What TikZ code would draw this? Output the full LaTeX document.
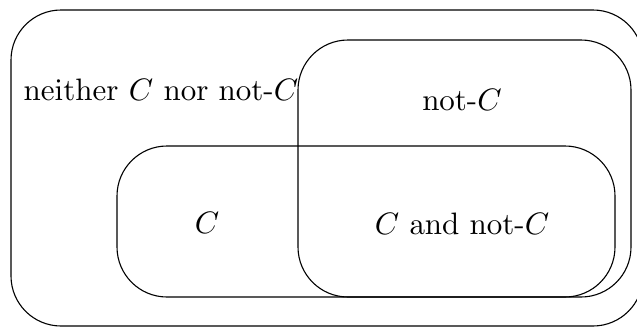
\documentclass[tikz,border=0pt]{standalone}
\font\bigrm=cmr10 at 31pt
\font\bigmi=cmmi10 at 31pt
\newcommand{\vC}{{\bigmi C\/}}
\begin{document}
\begin{tikzpicture}[x=1pt,y=-1pt,
  region/.style={draw=black, line width=1.1pt, rounded corners=50pt, inner sep=0pt, outer sep=0pt, rectangle},
  lbl/.style={anchor=base, inner sep=0pt, font=\bigrm}]
\useasboundingbox (0,0) rectangle (637,327);
\clip (0,0) rectangle (637,327);
\node[region, minimum width=632pt, minimum height=316pt] (outer) at (327,168) {};
\node[region, minimum width=333pt, minimum height=257pt] (notc) at (464.5,168.5) {};
\node[region, minimum width=498pt, minimum height=151pt] (c) at (366,221.5) {};
\node[lbl] (lneither) at (161,100) {neither \vC{} nor not-\vC};
\node[lbl] (lnotc) at (462,110) {not-\vC};
\node[lbl] (lc) at (207,233) {\vC};
\node[lbl] (lboth) at (462,234) {\vC{} and not-\vC};
\end{tikzpicture}
\end{document}
